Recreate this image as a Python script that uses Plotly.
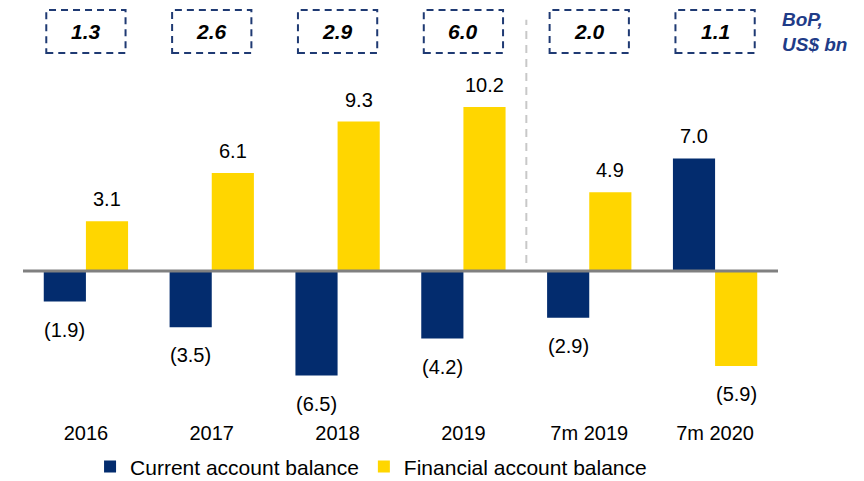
import plotly.graph_objects as go

categories = ['2016', '2017', '2018', '2019', '7m 2019', '7m 2020']
current_account = [-1.9, -3.5, -6.5, -4.2, -2.9, 7.0]
financial_account = [3.1, 6.1, 9.3, 10.2, 4.9, -5.9]
bop_balance = [1.3, 2.6, 2.9, 6.0, 2.0, 1.1]

NAVY = '#032C6E'
GOLD = '#FFD600'
FONT = 'Liberation Sans, Arial, sans-serif'


def fmt(v):
    # negatives shown in brackets, as in the source
    return f'({abs(v):.1f})' if v < 0 else f'{v:.1f}'


fig = go.Figure()
fig.add_trace(go.Bar(
    x=categories, y=current_account, name='Current account balance',
    marker_color=NAVY, marker_line_width=0
))
fig.add_trace(go.Bar(
    x=categories, y=financial_account, name='Financial account balance',
    marker_color=GOLD, marker_line_width=0
))

# value labels above / below each bar (x given as category index)
for series, shift in [(current_account, -21), (financial_account, 21)]:
    for i, v in enumerate(series):
        fig.add_annotation(
            x=i, y=v, text=fmt(v), showarrow=False,
            xshift=shift, yshift=22 if v >= 0 else -28,
            font=dict(size=20, color='black', family=FONT)
        )

# dashed boxes with the BoP balance on top
for i, v in enumerate(bop_balance):
    fig.add_shape(
        type='rect', xref='x', yref='paper',
        x0=i - 0.315, x1=i + 0.315, y0=1.025, y1=1.146,
        line=dict(color='#1F3A73', width=2, dash='7px,5px')
    )
    fig.add_annotation(
        x=i, y=1.086, xref='x', yref='paper', yanchor='middle',
        text=f'<b><i>{v:.1f}</i></b>', showarrow=False,
        font=dict(size=21, color='black', family=FONT)
    )

fig.add_annotation(
    x=1.003, y=1.085, xref='paper', yref='paper',
    xanchor='left', yanchor='middle', align='left',
    text='<b><i>BoP,<br>US$ bn</i></b>', showarrow=False,
    font=dict(size=19, color='#1F3C88', family=FONT)
)

# zero line and divider between full years and 7m figures
fig.add_shape(type='line', xref='x', yref='y', x0=-0.5, x1=5.5, y0=0, y1=0,
              line=dict(color='#808080', width=3), layer='above')
fig.add_shape(type='line', xref='x', yref='paper', x0=3.5, x1=3.5, y0=0.437, y1=1.118,
              line=dict(color='#C8C8C8', width=2, dash='8px,6px'))

fig.update_layout(
    width=864, height=481,
    margin=dict(l=15, r=94, t=54, b=70, autoexpand=False),
    plot_bgcolor='white', paper_bgcolor='white',
    barmode='group', bargap=0.33, bargroupgap=0,
    font=dict(family=FONT, size=20, color='black'),
    xaxis=dict(type='category', range=[-0.5, 5.5], showline=False, showgrid=False,
               ticks='', tickfont=dict(size=20, color='black')),
    yaxis=dict(range=[-9.2, 13], visible=False, showgrid=False, zeroline=False),
    legend=dict(orientation='h', x=0.461, xanchor='center', y=-0.134, yanchor='middle',
                font=dict(size=21, color='black'), traceorder='normal'),
    showlegend=True
)

fig.write_html('out.html')
